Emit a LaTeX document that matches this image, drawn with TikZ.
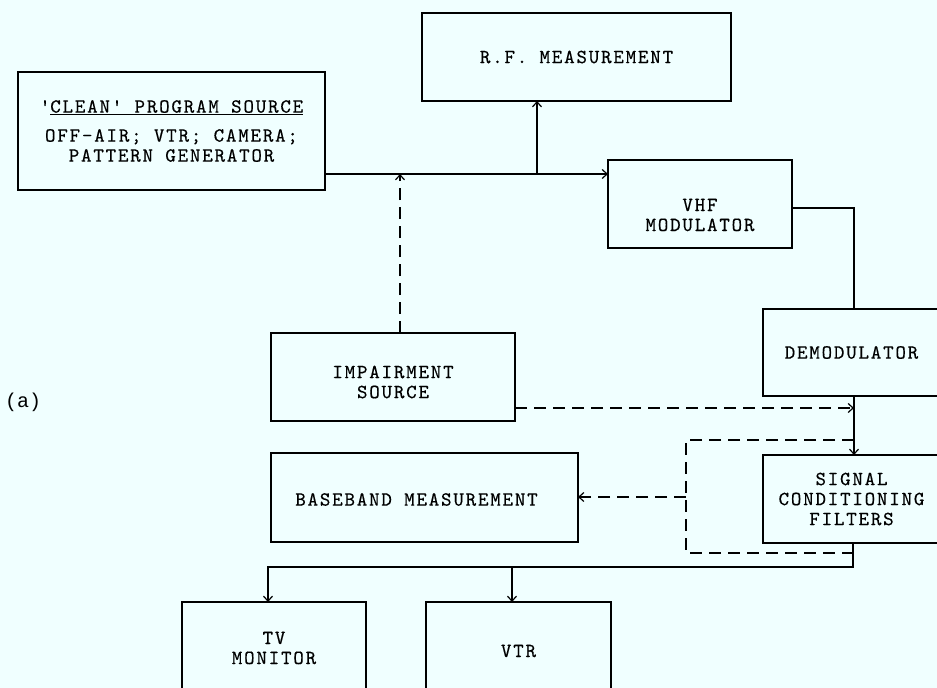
\documentclass[tikz,border=0pt]{standalone}
\usepackage{fontspec}
\newfontfamily\labfont{Liberation Mono}
\newfontfamily\twf{lmmono10-regular}[Extension=.otf, LetterSpace=9, FakeBold=0.4]
\usetikzlibrary{arrows.meta}
\definecolor{bg}{HTML}{F0FFFF}
\begin{document}
\begin{tikzpicture}[x=1pt,y=-1pt,
 twfont/.style={font=\fontsize{20}{20}\selectfont\twf},
 box/.style={draw, line width=1.2pt, inner sep=0pt, outer sep=0pt, align=center, twfont},
 txt/.style={inner sep=0pt, align=center, twfont},
 conn/.style={line width=1.2pt},
 arr/.style={-{Straight Barb[length=5pt,width=9pt]}},
 dsh/.style={dash pattern=on 12pt off 7pt}]
\fill[bg] (0,0) rectangle (937,688);
\useasboundingbox (0,0) rectangle (937,688);
\node[box, minimum width=307pt, minimum height=118pt] (clean) at (171.5,131) {'\underline{CLEAN' PROGRAM SOURCE}\\[9pt] OFF-AIR; VTR; CAMERA;\\ PATTERN GENERATOR};
\node[box, minimum width=309pt, minimum height=88pt] (rf) at (576.5,57) {R.F. MEASUREMENT};
\node[box, minimum width=184pt, minimum height=88pt] (vhf) at (700,204) {};
\node[txt] (vhft) at ([yshift=-11pt]vhf.center) {VHF\\MODULATOR};
\node[box, minimum width=177pt, minimum height=87pt] (demod) at (851.5,352.5) {DEMODULATOR};
\node[box, minimum width=244pt, minimum height=88pt] (imp) at (393,377) {};
\node[txt] (impt) at ([yshift=-5pt]imp.center) {IMPAIRMENT\\SOURCE};
\node[box, minimum width=177pt, minimum height=88pt] (sig) at (851.5,499) {SIGNAL\\CONDITIONING\\FILTERS};
\node[box, minimum width=307pt, minimum height=89pt] (base) at (424.5,497.5) {};
\node[txt] (baset) at ([xshift=-8pt,yshift=-2pt]base.center) {BASEBAND MEASUREMENT};
\node[box, minimum width=184pt, minimum height=98pt] (tv) at (274,651) {};
\node[txt] (tvt) at ([yshift=3pt]tv.center) {TV\\MONITOR};
\node[box, minimum width=185pt, minimum height=98pt] (vtr) at (518.5,651) {VTR};
\node[font=\fontsize{20}{20}\selectfont\labfont, anchor=west, inner sep=0pt] (lab) at (5,402) {(a)};
\coordinate (j1) at (537,174);
\coordinate (j2) at (400,174);
\coordinate (j3) at (854,208);
\coordinate (j4) at (854,408);
\coordinate (l1) at (854,440);
\coordinate (l2) at (686,440);
\coordinate (l3) at (686,553);
\coordinate (l4) at (853,553);
\coordinate (l5) at (686,497);
\coordinate (b1) at (853,567);
\coordinate (b2) at (268,567);
\coordinate (b3) at (512,567);
\draw[conn,arr] (clean.east |- j1) -- (vhf.west |- j1);
\draw[conn,arr] (j1) -- (rf.south -| j1);
\draw[conn,dsh,arr] (imp.north -| j2) -- (j2);
\draw[conn] (vhf.east |- j3) -- (j3) -- (demod.north -| j3);
\draw[conn,arr] (demod.south -| j3) -- (sig.north -| j3);
\draw[conn,dsh,arr] (imp.east |- j4) -- (j4);
\draw[conn,dsh] (l1) -- (l2) -- (l3) -- (l4);
\draw[conn,dsh,arr] (l5) -- (base.east |- l5);
\draw[conn,arr] (sig.south -| b1) -- (b1) -- (b2) -- (tv.north -| b2);
\draw[conn,arr] (b3) -- (vtr.north -| b3);
\end{tikzpicture}
\end{document}
